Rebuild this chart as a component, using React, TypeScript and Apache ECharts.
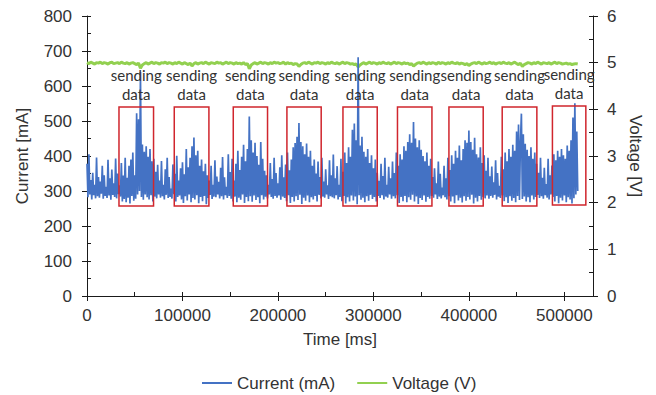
import React, { useEffect, useRef } from "react";
import * as echarts from "echarts";

const CURRENT_STEP_MS = 1000;
const VOLTAGE_STEP_MS = 2000;

const currentMa = [
  378, 282, 405, 290, 331, 276, 352, 288, 318, 279, 396, 285, 340, 281, 327, 292, 372, 278, 345, 286,
  312, 280, 389, 287, 336, 275, 361, 289, 322, 283, 393, 279, 350, 291, 316, 284, 380, 270, 344, 277,
  395, 268, 338, 281, 372, 264, 390, 286, 410, 272, 345, 278, 522, 290, 505, 300, 640, 283, 433, 275,
  412, 290, 428, 282, 398, 276, 420, 288, 385, 270, 392, 284, 355, 279, 375, 290, 330, 281, 386, 285,
  318, 276, 362, 289, 395, 280, 340, 283, 307, 278, 376, 291, 349, 270, 401, 283, 330, 287, 365, 276,
  382, 266, 348, 285, 420, 273, 368, 290, 395, 268, 428, 280, 453, 276, 402, 288, 415, 265, 372, 283,
  390, 271, 356, 286, 378, 262, 345, 280, 330, 289, 372, 277, 318, 284, 388, 282, 341, 290, 326, 279,
  366, 285, 397, 276, 339, 288, 312, 280, 405, 286, 354, 278, 392, 270, 330, 284, 378, 268, 415, 281,
  360, 275, 398, 290, 432, 266, 385, 283, 420, 271, 513, 285, 445, 269, 410, 287, 438, 274, 400, 282,
  375, 265, 440, 288, 392, 276, 358, 284, 345, 279, 318, 290, 380, 283, 334, 278, 395, 286, 351, 281,
  322, 287, 368, 275, 402, 284, 339, 280, 376, 271, 410, 288, 359, 266, 390, 283, 425, 270, 437, 285,
  455, 274, 494, 289, 440, 263, 428, 281, 405, 272, 436, 287, 398, 268, 415, 282, 372, 276, 390, 286,
  350, 270, 384, 289, 340, 279, 395, 284, 327, 281, 362, 290, 316, 277, 388, 285, 345, 282, 404, 279,
  336, 288, 371, 276, 318, 283, 392, 271, 355, 286, 410, 264, 380, 282, 425, 270, 398, 287, 475, 273,
  493, 284, 445, 262, 682, 288, 430, 275, 455, 281, 412, 268, 398, 285, 420, 272, 380, 289, 402, 277,
  365, 283, 390, 270, 352, 286, 329, 280, 378, 288, 343, 276, 395, 284, 318, 281, 369, 290, 336, 278,
  384, 285, 351, 279, 410, 288, 372, 266, 405, 283, 390, 271, 428, 286, 415, 268, 440, 282, 462, 275,
  438, 289, 497, 270, 450, 284, 425, 263, 445, 280, 418, 274, 400, 287, 385, 269, 410, 283, 372, 278,
  392, 286, 340, 281, 365, 290, 322, 277, 384, 284, 349, 279, 310, 288, 372, 282, 336, 276, 395, 285,
  360, 270, 402, 284, 378, 265, 415, 288, 395, 273, 430, 281, 388, 267, 420, 285, 445, 272, 438, 283,
  473, 276, 440, 289, 418, 264, 452, 281, 405, 270, 396, 286, 425, 275, 380, 283, 402, 279, 358, 287,
  395, 278, 342, 286, 370, 281, 325, 289, 388, 276, 351, 284, 315, 280, 398, 287, 362, 271, 410, 282,
  385, 266, 420, 285, 398, 272, 432, 280, 415, 268, 470, 286, 490, 274, 440, 521, 277, 462, 284, 435,
  270, 418, 282, 400, 268, 425, 287, 392, 276, 410, 283, 378, 289, 352, 280, 395, 285, 338, 278, 366,
  288, 320, 281, 392, 276, 345, 290, 373, 283, 405, 270, 388, 286, 415, 265, 398, 281, 420, 273, 402,
  287, 392, 268, 430, 282, 415, 276, 445, 264, 510, 279, 551, 290, 470, 300,
];

const voltageV = [
  5.0, 4.98, 5.01, 4.99, 4.97, 5.0, 4.99, 5.01, 4.98, 5.0, 4.99, 4.97, 5.0, 5.01, 4.98, 4.99, 5.0, 4.98, 5.01, 4.99,
  4.98, 5.0, 4.97, 4.99, 5.0, 4.98, 4.96, 4.99, 4.88, 4.95, 4.98, 5.0, 4.97, 4.99, 5.01, 4.98, 5.0, 4.99, 4.97, 5.0,
  4.99, 5.01, 4.98, 5.0, 4.99, 4.97, 5.0, 4.98, 5.01, 4.99, 4.97, 5.0, 4.98, 4.96, 4.99, 4.93, 4.98, 5.0, 4.97, 4.99,
  5.0, 4.98, 5.01, 4.99, 4.97, 5.0, 4.99, 4.98, 5.01, 4.99, 5.0, 4.97, 4.99, 5.01, 4.98, 5.0, 4.99, 4.97, 5.0, 4.98,
  4.99, 4.97, 5.0, 4.96, 4.98, 4.87, 4.95, 4.98, 5.0, 4.97, 4.99, 5.01, 4.98, 5.0, 4.99, 4.97, 5.0, 4.98, 5.01, 4.99,
  5.0, 4.98, 4.99, 5.01, 4.97, 5.0, 4.98, 4.99, 4.96, 4.98, 4.97, 4.92, 4.96, 4.99, 5.0, 4.98, 5.01, 4.99, 4.97, 5.0,
  4.99, 5.01, 4.98, 5.0, 4.99, 4.97, 5.0, 4.98, 5.01, 4.99, 4.98, 5.0, 4.97, 4.99, 5.01, 4.98, 5.0, 4.99, 4.97, 4.98,
  4.96, 4.97, 4.91, 4.95, 4.98, 5.0, 4.97, 4.99, 5.01, 4.98, 5.0, 4.99, 4.97, 5.0, 4.98, 5.01, 4.99, 4.98, 5.0, 4.97,
  4.99, 5.01, 4.98, 5.0, 4.99, 4.97, 5.0, 4.98, 4.99, 4.96, 4.98, 4.93, 4.96, 4.99, 5.0, 4.98, 5.01, 4.99, 4.97, 5.0,
  4.98, 5.0, 4.99, 4.97, 5.01, 4.98, 5.0, 4.99, 4.97, 5.0, 4.98, 5.01, 4.99, 4.98, 5.0, 4.97, 4.99, 4.98, 4.96, 4.98,
  4.94, 4.97, 4.99, 5.0, 4.98, 5.01, 4.99, 4.97, 5.0, 4.98, 4.99, 5.01, 4.98, 5.0, 4.97, 4.99, 5.0, 4.98, 5.01, 4.99,
  4.98, 5.0, 4.97, 4.99, 5.01, 4.98, 4.96, 4.99, 4.92, 4.96, 4.98, 5.0, 4.99, 4.97, 5.0, 4.98, 5.01, 4.99, 4.97, 5.0,
  4.99, 4.98, 5.0, 4.97, 4.99, 5.01, 4.98, 5.0, 4.99, 4.97, 4.98, 4.99, 4.97, 4.98, 4.96, 4.97, 4.98, 4.97,
];

const boxStartMs = [33500, 91400, 153200, 209400, 268100, 325200, 379100, 434900, 487500];
const boxEndMs = [69700, 127700, 189100, 245300, 304000, 361300, 415000, 471200, 522500];
const boxTopMa = [540, 540, 540, 540, 540, 540, 540, 540, 543];
const boxBottomMa = [257, 257, 257, 257, 257, 257, 257, 257, 260];
const boxLabel = "sending\ndata";

const xTickValues = [0, 100000, 200000, 300000, 400000, 500000];
const xMinorTickValues = [0, 50000, 100000, 150000, 200000, 250000, 300000, 350000, 400000, 450000, 500000];

const FONT = "'Liberation Sans', Arial, sans-serif";
const TEXT = "#333333";
const AXIS = { color: "#1a1a1a", width: 1 };

export default function App() {
  const ref = useRef<HTMLDivElement>(null);
  useEffect(() => {
    if (!ref.current) return;
    const chart = echarts.init(ref.current, undefined, { renderer: "svg" });
    const currentData = currentMa.map((v, i) => [i * CURRENT_STEP_MS, v]);
    const voltageData = voltageV.map((v, i) => [i * VOLTAGE_STEP_MS, v]);
    const boxes = boxStartMs.map((s, i) => [
      { xAxis: s, yAxis: boxTopMa[i] },
      { xAxis: boxEndMs[i], yAxis: boxBottomMa[i] },
    ]);
    const labelStyle = { fontFamily: FONT, fontSize: 17, color: TEXT };
    chart.setOption({
      animation: false,
      grid: { left: 87, right: 63, top: 16, bottom: 99 },
      legend: {
        data: ["Current (mA)", "Voltage (V)"],
        left: 197,
        top: 368,
        icon: "rect",
        itemWidth: 30,
        itemHeight: 2,
        itemGap: 22,
        textStyle: { ...labelStyle, lineHeight: 20 },
      },
      xAxis: [
        {
          type: "value",
          min: 0,
          max: 530000,
          position: "bottom",
          name: "Time [ms]",
          nameLocation: "middle",
          nameGap: 35,
          nameTextStyle: labelStyle,
          axisLine: { show: true, onZero: false, lineStyle: AXIS },
          axisTick: { show: true, inside: false, length: 5, customValues: xTickValues, lineStyle: AXIS },
          axisLabel: { ...labelStyle, margin: 11, customValues: xTickValues, formatter: (v: number) => String(v) },
          splitLine: { show: false },
        },
        {
          type: "value",
          min: 0,
          max: 530000,
          position: "bottom",
          axisLine: { show: false, onZero: false },
          axisTick: { show: true, inside: true, length: 4, customValues: xMinorTickValues, lineStyle: AXIS },
          axisLabel: { show: false },
          splitLine: { show: false },
        },
      ],
      yAxis: [
        {
          type: "value",
          min: 0,
          max: 800,
          interval: 100,
          position: "left",
          name: "Current [mA]",
          nameLocation: "middle",
          nameGap: 56,
          nameTextStyle: labelStyle,
          axisLine: { show: true, onZero: false, lineStyle: AXIS },
          axisTick: { show: true, inside: false, length: 5, lineStyle: AXIS },
          axisLabel: { ...labelStyle, margin: 15 },
          splitLine: { show: false },
        },
        {
          type: "value",
          min: 0,
          max: 800,
          interval: 50,
          position: "left",
          axisLine: { show: false, onZero: false },
          axisTick: { show: true, inside: true, length: 4, lineStyle: AXIS },
          axisLabel: { show: false },
          splitLine: { show: false },
        },
        {
          type: "value",
          min: 0,
          max: 6,
          interval: 1,
          position: "right",
          name: "Voltage [V]",
          nameLocation: "middle",
          nameGap: 34,
          nameRotate: -90,
          nameTextStyle: labelStyle,
          axisLine: { show: true, onZero: false, lineStyle: AXIS },
          axisTick: { show: true, inside: false, length: 5, lineStyle: AXIS },
          axisLabel: { ...labelStyle, margin: 14 },
          splitLine: { show: false },
        },
        {
          type: "value",
          min: 0,
          max: 6,
          interval: 0.5,
          position: "right",
          axisLine: { show: false, onZero: false },
          axisTick: { show: true, inside: true, length: 4, lineStyle: AXIS },
          axisLabel: { show: false },
          splitLine: { show: false },
        },
      ],
      series: [
        {
          name: "Current (mA)",
          type: "line",
          xAxisIndex: 0,
          yAxisIndex: 0,
          data: currentData,
          symbol: "none",
          showSymbol: false,
          z: 3,
          lineStyle: { color: "#4472c4", width: 1.7 },
          itemStyle: { color: "#4472c4" },
          markArea: {
            silent: true,
            z: 6,
            itemStyle: { color: "rgba(0,0,0,0)", borderColor: "#d0262d", borderWidth: 1.5 },
            label: {
              show: true,
              position: "top",
              distance: 3,
              formatter: boxLabel,
              fontFamily: "Lato, 'Open Sans', sans-serif",
              fontSize: 15,
              lineHeight: 19,
              color: "#333333",
              align: "center",
            },
            data: boxes,
          },
        },
        {
          name: "Voltage (V)",
          type: "line",
          xAxisIndex: 0,
          yAxisIndex: 2,
          data: voltageData,
          symbol: "none",
          showSymbol: false,
          z: 2,
          lineStyle: { color: "#92d050", width: 3 },
          itemStyle: { color: "#92d050" },
        },
      ],
    });
    return () => chart.dispose();
  }, []);
  return (
    <div
      ref={ref}
      style={{ position: "absolute", left: 0, top: 0, width: 656, height: 395, background: "#fff" }}
    />
  );
}
